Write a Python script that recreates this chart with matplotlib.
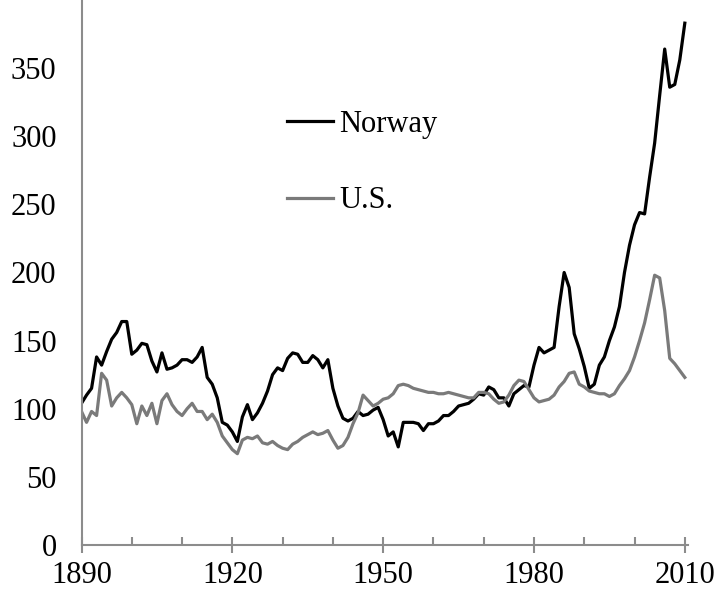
import matplotlib
matplotlib.use("Agg")
import matplotlib.pyplot as plt
import numpy as np

years = np.arange(1890, 2011)

norway = [
    104, 110, 115, 138, 132, 142, 151, 156, 164, 164,   # 1890s
    140, 143, 148, 147, 135, 127, 141, 129, 130, 132,   # 1900s
    136, 136, 134, 138, 145, 123, 118, 108, 90, 88,     # 1910s
    83, 76, 94, 103, 92, 97, 104, 113, 125, 130,        # 1920s
    128, 137, 141, 140, 134, 134, 139, 136, 130, 136,   # 1930s
    115, 102, 93, 91, 93, 98, 95, 96, 99, 101,          # 1940s
    92, 80, 83, 72, 90, 90, 90, 89, 84, 89,             # 1950s
    89, 91, 95, 95, 98, 102, 103, 104, 107, 111,        # 1960s
    110, 116, 114, 108, 108, 102, 111, 114, 117, 116,   # 1970s
    132, 145, 141, 143, 145, 175, 200, 189, 155, 144,   # 1980s
    131, 115, 118, 132, 138, 150, 160, 175, 200, 220,   # 1990s
    235, 244, 243, 270, 295, 330, 364, 336, 338, 356,   # 2000s
    383,                                                # 2010
]

us = [
    98, 90, 98, 95, 126, 121, 102, 108, 112, 108,       # 1890s
    103, 89, 102, 95, 104, 89, 106, 111, 103, 98,       # 1900s
    95, 100, 104, 98, 98, 92, 96, 90, 80, 75,           # 1910s
    70, 67, 77, 79, 78, 80, 75, 74, 76, 73,             # 1920s
    71, 70, 74, 76, 79, 81, 83, 81, 82, 84,             # 1930s
    77, 71, 73, 79, 89, 97, 110, 106, 102, 104,         # 1940s
    107, 108, 111, 117, 118, 117, 115, 114, 113, 112,   # 1950s
    112, 111, 111, 112, 111, 110, 109, 108, 108, 112,   # 1960s
    112, 111, 107, 104, 105, 110, 117, 121, 120, 114,   # 1970s
    108, 105, 106, 107, 110, 116, 120, 126, 127, 118,   # 1980s
    116, 113, 112, 111, 111, 109, 111, 117, 122, 128,   # 1990s
    138, 150, 163, 180, 198, 196, 172, 137, 133, 128,   # 2000s
    123,                                                # 2010
]

plt.rcParams["font.family"] = ["Liberation Serif", "DejaVu Serif"]

fig = plt.figure(figsize=(7.15, 5.9), dpi=100)
ax = fig.add_axes([0.114, 0.0763, 0.848, 0.9237])

ax.plot(years, norway, color="black", linewidth=2.3, label="Norway")
ax.plot(years, us, color="#7a7a7a", linewidth=2.3, label="U.S.")

ax.set_xlim(1890, 2010.6)
ax.set_ylim(0, 400)

ax.set_xticks([1890, 1920, 1950, 1980, 2010])
ax.set_xticks(np.arange(1890, 2011, 10), minor=True)
ax.set_yticks(np.arange(0, 351, 50))

for s in ["top", "right"]:
    ax.spines[s].set_visible(False)
for s in ["left", "bottom"]:
    ax.spines[s].set_color("#8c8c8c")
    ax.spines[s].set_linewidth(1.5)

ax.tick_params(axis="x", which="major", direction="inout", length=11,
               width=1.5, color="#8c8c8c", labelsize=22, pad=6)
ax.tick_params(axis="x", which="minor", direction="in", length=6,
               width=1.5, color="#8c8c8c")
ax.tick_params(axis="y", length=0, labelsize=22, pad=18)

ax.legend(loc="upper left", bbox_to_anchor=(0.339, 0.798), frameon=False,
          fontsize=22, handlelength=1.5, handletextpad=0.2,
          labelspacing=1.55, borderpad=0, borderaxespad=0)

plt.savefig("out.png", dpi=100)
